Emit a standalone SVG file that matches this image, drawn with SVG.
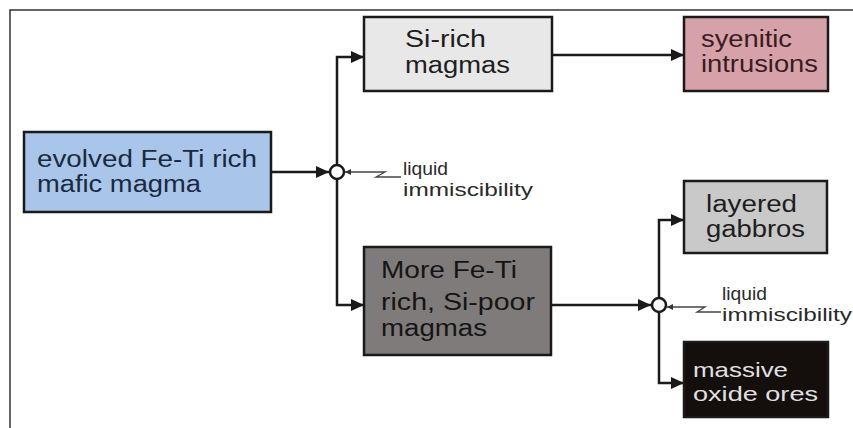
<svg xmlns="http://www.w3.org/2000/svg" width="853" height="428" viewBox="0 0 853 428">
<defs>
<marker id="ah" markerUnits="userSpaceOnUse" markerWidth="13" markerHeight="12" refX="13" refY="6" orient="auto">
<path d="M0,0 L13,6 L0,12 z" fill="#1a1a1a"/>
</marker>
<marker id="sh" markerUnits="userSpaceOnUse" markerWidth="6" markerHeight="6" refX="6" refY="3" orient="auto">
<path d="M0,0 L6,3 L0,6 z" fill="#333"/>
</marker>
</defs>
<style>
text{font-family:"Liberation Sans",Arial,sans-serif;font-size:23px;fill:#1e1e1e}
.box{stroke:#1a1a1a;stroke-width:2.5}
.c{fill:none;stroke:#1a1a1a;stroke-width:2.5}
.t{fill:none;stroke:#444;stroke-width:1.3}
.lq{font-size:19px;fill:#2a2a2a}
.sm{font-size:21px;fill:#e0e0e0}
.n{fill:#fff;stroke:#1a1a1a;stroke-width:2.5}
</style>
<rect width="853" height="428" fill="#fff"/>
<path d="M10,428 V10 H853" fill="none" stroke="#333" stroke-width="1.5"/>

<g id="connectors">
<path class="c" d="M271,172 H329" marker-end="url(#ah)"/>
<path class="c" d="M337,165 V57 H364" marker-end="url(#ah)"/>
<path class="c" d="M337,179 V305 H364" marker-end="url(#ah)"/>
<path class="c" d="M552,55 H684" marker-end="url(#ah)"/>
<path class="c" d="M551,305 H651" marker-end="url(#ah)"/>
<path class="c" d="M659,298 V220 H684" marker-end="url(#ah)"/>
<path class="c" d="M659,312 V383 H684" marker-end="url(#ah)"/>
<path class="t" d="M401,177 H376 L385,172 H345" marker-end="url(#sh)"/>
<path class="t" d="M721,312 H697 L705,307 H667" marker-end="url(#sh)"/>
<circle class="n" cx="337" cy="172" r="7"/>
<circle class="n" cx="659" cy="305" r="7"/>
</g>

<g id="evolved">
<rect class="box" x="24" y="132" width="247" height="80" fill="#a9c5e9" stroke="#1c2838"/>
<text x="37" y="167" textLength="220" lengthAdjust="spacingAndGlyphs" style="fill:#1a2a40">evolved Fe-Ti rich</text>
<text x="37" y="192" textLength="164" lengthAdjust="spacingAndGlyphs" style="fill:#1a2a40">mafic magma</text>
</g>

<g id="sirich">
<rect class="box" x="364" y="17" width="188" height="74" fill="#e8e8e8"/>
<text x="405" y="47" textLength="81" lengthAdjust="spacingAndGlyphs">Si-rich</text>
<text x="405" y="73" textLength="105" lengthAdjust="spacingAndGlyphs">magmas</text>
</g>

<g id="syenitic">
<rect class="box" x="684" y="17" width="144" height="74" fill="#d7a1aa" stroke="#3e1a1e"/>
<text x="701" y="47" textLength="91" lengthAdjust="spacingAndGlyphs" style="fill:#3a1c1e">syenitic</text>
<text x="701" y="72" textLength="117" lengthAdjust="spacingAndGlyphs" style="fill:#3a1c1e">intrusions</text>
</g>

<g id="liquid1">
<text class="lq" x="403" y="175" textLength="45" lengthAdjust="spacingAndGlyphs">liquid</text>
<text class="lq" x="403" y="196" textLength="130" lengthAdjust="spacingAndGlyphs">immiscibility</text>
</g>

<g id="morefeti">
<rect class="box" x="364" y="247" width="187" height="108" fill="#7e7b7a"/>
<text x="381" y="278" textLength="136" lengthAdjust="spacingAndGlyphs" style="fill:#151515">More Fe-Ti</text>
<text x="381" y="310" textLength="154" lengthAdjust="spacingAndGlyphs" style="fill:#151515">rich, Si-poor</text>
<text x="381" y="336" textLength="106" lengthAdjust="spacingAndGlyphs" style="fill:#151515">magmas</text>
</g>

<g id="layered">
<rect class="box" x="684" y="181" width="143" height="72" fill="#c9c9c9"/>
<text x="706" y="212" textLength="91" lengthAdjust="spacingAndGlyphs">layered</text>
<text x="706" y="237" textLength="99" lengthAdjust="spacingAndGlyphs">gabbros</text>
</g>

<g id="liquid2">
<text class="lq" x="722" y="300" textLength="45" lengthAdjust="spacingAndGlyphs">liquid</text>
<text class="lq" x="722" y="321" textLength="130" lengthAdjust="spacingAndGlyphs">immiscibility</text>
</g>

<g id="massive">
<rect class="box" x="684" y="342" width="144" height="75" fill="#140e0c"/>
<text class="sm" x="693" y="377" textLength="95" lengthAdjust="spacingAndGlyphs">massive</text>
<text class="sm" x="693" y="401" textLength="125" lengthAdjust="spacingAndGlyphs">oxide ores</text>
</g>
</svg>
